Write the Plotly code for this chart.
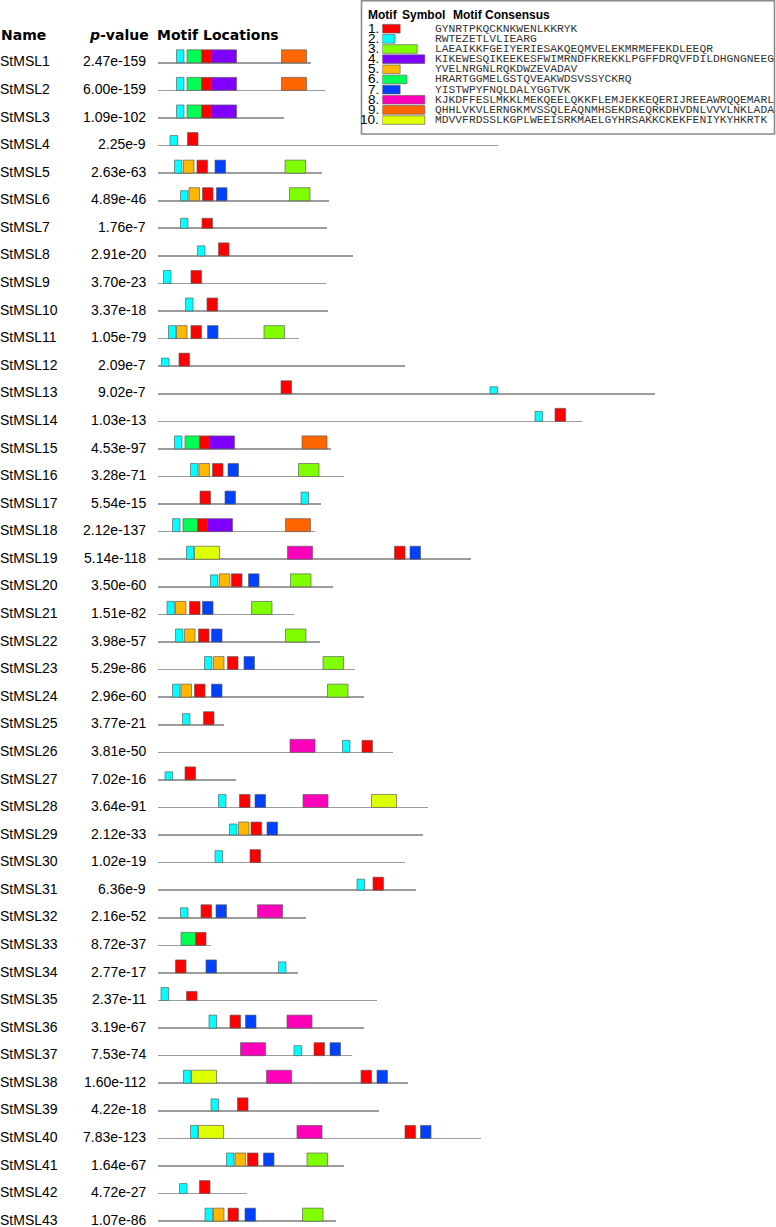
import plotly.graph_objects as go

# ---------------- data ----------------
names = [f"StMSL{i}" for i in range(1, 44)]
pvalues = ["2.47e-159", "6.00e-159", "1.09e-102", "2.25e-9", "2.63e-63", "4.89e-46",
           "1.76e-7", "2.91e-20", "3.70e-23", "3.37e-18", "1.05e-79", "2.09e-7",
           "9.02e-7", "1.03e-13", "4.53e-97", "3.28e-71", "5.54e-15", "2.12e-137",
           "5.14e-118", "3.50e-60", "1.51e-82", "3.98e-57", "5.29e-86", "2.96e-60",
           "3.77e-21", "3.81e-50", "7.02e-16", "3.64e-91", "2.12e-33", "1.02e-19",
           "6.36e-9", "2.16e-52", "8.72e-37", "2.77e-17", "2.37e-11", "3.19e-67",
           "7.53e-74", "1.60e-112", "4.22e-18", "7.83e-123", "1.64e-67", "4.72e-27",
           "1.07e-86"]
lengths = [307, 334, 252, 680, 328, 343, 338, 390, 336, 340, 282, 495, 995, 848,
           347, 372, 326, 314, 626, 350, 272, 325, 395, 412, 133, 470, 157, 540,
           531, 494, 517, 296, 106, 280, 438, 413, 388, 500, 442, 646, 373, 178, 357]

motif_labels = ["1.", "2.", "3.", "4.", "5.", "6.", "7.", "8.", "9.", "10."]
motif_widths = [21, 15, 41, 50, 21, 29, 21, 50, 50, 50]
motif_colors = ["#FF0000", "#00FFFF", "#80FF00", "#8000FF", "#FFB800",
                "#00FF55", "#0040FF", "#FF00BB", "#FF6600", "#DDFF00"]
motif_consensus = [
    "GYNRTPKQCKNKWENLKKRYK",
    "RWTEZETLVLIEARG",
    "LAEAIKKFGEIYERIESAKQEQMVELEKMRMEFEKDLEEQR",
    "KIKEWESQIKEEKESFWIMRNDFKREKKLPGFFDRQVFDILDHGNGNEEG",
    "YVELNRGNLRQKDWZEVADAV",
    "HRARTGGMELGSTQVEAKWDSVSSYCKRQ",
    "YISTWPYFNQLDALYGGTVK",
    "KJKDFFESLMKKLMEKQEELQKKFLEMJEKKEQERIJREEAWRQQEMARL",
    "QHHLVKVLERNGKMVSSQLEAQNMHSEKDREQRKDHVDNLVVVLNKLADA",
    "MDVVFRDSSLKGPLWEEISRKMAELGYHRSAKKCKEKFENIYKYHKRTK",
]

# sites: (gene number, start position in aa, relative box height)
motif1_sites = [(1, 88, 1), (2, 88, 1), (3, 88, 1), (4, 60, 1), (5, 79, 1), (6, 90, 1),
                (7, 89, .77), (8, 122, 1), (9, 67, 1), (10, 99, 1), (11, 67, 1), (12, 43, 1),
                (13, 247, 1), (14, 795, 1), (15, 84, 1), (16, 110, 1), (17, 85, 1), (18, 80, 1),
                (19, 474, 1), (20, 148, 1), (21, 64, 1), (22, 82, 1), (23, 140, 1), (24, 74, 1),
                (25, 92, 1), (26, 409, .92), (27, 55, 1), (28, 164, 1), (29, 187, 1), (30, 185, 1),
                (31, 431, 1), (32, 87, 1), (33, 76, 1), (34, 36, 1), (35, 58, .7), (36, 145, 1),
                (37, 313, 1), (38, 407, 1), (39, 160, 1), (40, 495, 1), (41, 180, 1), (42, 84, 1),
                (43, 141, 1)]
motif2_sites = [(1, 38, 1), (2, 38, 1), (3, 38, 1), (4, 25, .77), (5, 34, 1), (6, 46, .77),
                (7, 46, .77), (8, 80, .77), (9, 12, 1), (10, 56, 1), (11, 22, 1), (12, 8, .62),
                (13, 665, .54), (14, 755, .77), (15, 34, 1), (16, 66, 1), (17, 287, .92), (18, 30, 1),
                (19, 58, 1), (20, 106, .92), (21, 19, 1), (22, 36, 1), (23, 94, 1), (24, 30, 1),
                (25, 50, .85), (26, 370, .92), (27, 15, .62), (28, 122, 1), (29, 144, .85),
                (30, 115, .92), (31, 399, .85), (32, 46, .77), (34, 242, .85), (35, 7, 1),
                (36, 103, 1), (37, 273, .77), (38, 52, 1), (39, 107, .92), (40, 66, 1),
                (41, 138, 1), (42, 44, .77), (43, 95, 1)]
motif3_sites = [(5, 255, 1), (6, 264, 1), (11, 213, 1), (16, 282, 1), (20, 266, 1), (21, 188, 1),
                (22, 256, 1), (23, 331, 1), (24, 340, 1), (41, 299, 1), (43, 290, 1)]
motif4_sites = [(1, 108, 1), (2, 108, 1), (3, 108, 1), (15, 104, 1), (18, 100, 1)]
motif5_sites = [(5, 52, 1), (6, 63, 1), (11, 38, 1), (16, 83, 1), (20, 124, 1), (21, 36, 1),
                (22, 54, 1), (23, 112, 1), (24, 47, 1), (29, 162, 1), (41, 155, 1), (43, 112, 1)]
motif6_sites = [(1, 59, 1), (2, 59, 1), (3, 59, 1), (15, 55, 1), (18, 51, 1), (33, 47, 1)]
motif7_sites = [(5, 115, 1), (6, 118, 1), (11, 100, 1), (16, 141, 1), (17, 135, 1), (19, 505, 1),
                (20, 182, 1), (21, 90, 1), (22, 108, 1), (23, 173, 1), (24, 108, 1), (28, 195, 1),
                (29, 219, 1), (32, 117, 1), (34, 97, 1), (36, 176, 1), (37, 345, 1), (38, 439, 1),
                (40, 526, 1), (41, 212, 1), (43, 175, 1)]
motif8_sites = [(19, 260, 1), (26, 265, 1), (28, 291, 1), (32, 200, 1), (36, 259, 1),
                (37, 166, 1), (38, 218, 1), (40, 279, 1)]
motif9_sites = [(1, 248, 1), (2, 248, 1), (15, 289, 1), (18, 256, 1)]
motif10_sites = [(19, 74, 1), (28, 428, 1), (38, 68, 1), (40, 82, 1)]

all_sites = [motif1_sites, motif2_sites, motif3_sites, motif4_sites, motif5_sites,
             motif6_sites, motif7_sites, motif8_sites, motif9_sites, motif10_sites]

# ---------------- geometry ----------------
W, H = 776, 1227
PX_PER_AA = 0.5
X0_PX = 157.5
ROW0_PX = 62.8
ROW_PX = 27.58
BOX_PX = 13.0
LINE_PX = 1.6

x_range = [-X0_PX / PX_PER_AA, (W - X0_PX) / PX_PER_AA]
y_range = [(H - ROW0_PX) / ROW_PX, -ROW0_PX / ROW_PX]
box_full = BOX_PX / ROW_PX
line_w = LINE_PX / ROW_PX

fig = go.Figure()

rows = list(range(len(names)))
fig.add_trace(go.Bar(
    orientation="h", y=rows, x=lengths, base=[0] * len(rows),
    width=[line_w] * len(rows), offset=[-line_w / 2] * len(rows),
    marker=dict(color="#9c9c9c", line=dict(width=0)),
    hoverinfo="skip", showlegend=False))

outline = "rgba(90,90,90,0.65)"
for k, sites in enumerate(all_sites):
    r = [g - 1 for g, s, h in sites]
    st = [s for g, s, h in sites]
    hh = [box_full * h for g, s, h in sites]
    fig.add_trace(go.Bar(
        orientation="h", y=r, x=[motif_widths[k]] * len(sites), base=st,
        width=hh, offset=[-v for v in hh],
        marker=dict(color=motif_colors[k], line=dict(color=outline, width=1)),
        name=f"Motif {k + 1}", showlegend=False))

# ---------------- legend (second subplot) ----------------
LEG_X0, LEG_X1 = 382.3, 774.0
LEG_PX_PER_AA = 0.85
LEG_ROW1 = 28.7
LEG_ROW = 10.15
LEG_TOP, LEG_BOT = 0, 135
leg_rows = list(range(1, 11))
sw = 8.6 / LEG_ROW
fig.add_trace(go.Bar(
    orientation="h", y=leg_rows, x=motif_widths, base=[0] * 10,
    width=[sw] * 10, marker=dict(color=motif_colors, line=dict(color=outline, width=1)),
    xaxis="x2", yaxis="y2", showlegend=False, hoverinfo="skip"))

annotations = []
# headers
hdr_y = (35 - ROW0_PX) / ROW_PX
hfont = dict(family="DejaVu Sans", size=14, color="black")
annotations.append(dict(x=-1.5 / W, xref="paper", y=hdr_y, yref="y", text="<b>Name</b>",
                        xanchor="left", yanchor="middle", showarrow=False, font=hfont))
annotations.append(dict(x=151 / W, xref="paper", y=hdr_y, yref="y", text="<b><i>p</i>-value</b>",
                        xanchor="right", yanchor="middle", showarrow=False, font=hfont))
annotations.append(dict(x=155 / W, xref="paper", y=hdr_y, yref="y", text="<b>Motif Locations</b>",
                        xanchor="left", yanchor="middle", showarrow=False, font=hfont))

rfont = dict(family="Liberation Sans", size=14, color="black")
for i, (n, p) in enumerate(zip(names, pvalues)):
    annotations.append(dict(x=-2 / W, xref="paper", y=i - 0.05, yref="y", text=n,
                            xanchor="left", yanchor="middle", showarrow=False, font=rfont))
    annotations.append(dict(x=148 / W, xref="paper", y=i - 0.05, yref="y", text=p,
                            xanchor="right", yanchor="middle", showarrow=False, font=rfont))

lhfont = dict(family="Liberation Sans", size=12, color="black")
for txt, xp in [("Motif", 366), ("Symbol", 400), ("Motif Consensus", 450.5)]:
    annotations.append(dict(x=xp / W, xref="paper", y=1 - 15 / H, yref="paper",
                            text=f"<b>{txt}</b>", xanchor="left", yanchor="middle",
                            showarrow=False, font=lhfont))
for i in range(10):
    annotations.append(dict(x=381 / W, xref="paper", y=leg_rows[i] - 0.05, yref="y2",
                            text=motif_labels[i], xanchor="right", yanchor="middle",
                            showarrow=False,
                            font=dict(family="Liberation Sans", size=13.5, color="black")))
    annotations.append(dict(x=432.5 / W, xref="paper", y=leg_rows[i], yref="y2",
                            text=motif_consensus[i], xanchor="left", yanchor="middle",
                            showarrow=False,
                            font=dict(family="Liberation Mono", size=11.3, color="#333333")))

shapes = [dict(type="rect", xref="paper", yref="paper",
               x0=361.5 / W, x1=774.5 / W, y0=1 - 134 / H, y1=1 - 0.8 / H,
               line=dict(color="#8a8a8a", width=1.6), fillcolor="white", layer="below")]

axis_off = dict(showgrid=False, zeroline=False, showticklabels=False, ticks="",
                showline=False, fixedrange=True)
fig.update_layout(
    width=W, height=H, margin=dict(l=0, r=0, t=0, b=0),
    paper_bgcolor="white", plot_bgcolor="rgba(0,0,0,0)",
    barmode="overlay", bargap=0, showlegend=False,
    xaxis=dict(domain=[0, 1], range=x_range, **axis_off),
    yaxis=dict(domain=[0, 1], range=y_range, **axis_off),
    xaxis2=dict(domain=[LEG_X0 / W, LEG_X1 / W], anchor="y2",
                range=[0, (LEG_X1 - LEG_X0) / LEG_PX_PER_AA], **axis_off),
    yaxis2=dict(domain=[1 - LEG_BOT / H, 1 - LEG_TOP / H], anchor="x2",
                range=[1 + (LEG_BOT - LEG_ROW1) / LEG_ROW, 1 + (LEG_TOP - LEG_ROW1) / LEG_ROW],
                **axis_off),
    annotations=annotations, shapes=shapes,
)

fig.write_html("out.html", config={"staticPlot": True, "displayModeBar": False},
               post_script="document.body.style.margin='0';document.body.style.overflow='hidden';")
